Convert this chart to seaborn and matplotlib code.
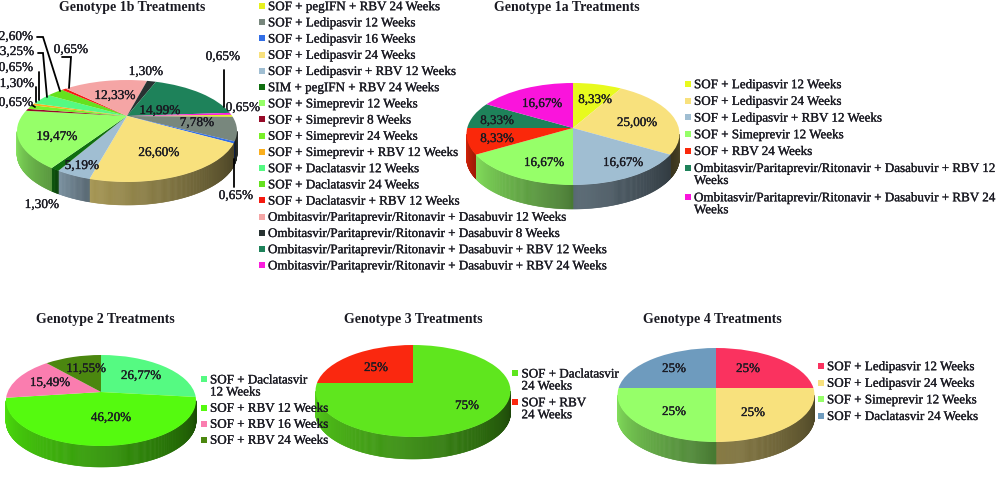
import numpy as np
import matplotlib
matplotlib.use("Agg")
import matplotlib.pyplot as plt
import matplotlib.patheffects as pe
import matplotlib.transforms as mtransforms
import seaborn as sns

# ---------------- DATA ----------------
labels_1b = [
    "SOF + pegIFN + RBV 24 Weeks", "SOF + Ledipasvir 12 Weeks", "SOF + Ledipasvir 16 Weeks",
    "SOF + Ledipasvir 24 Weeks", "SOF + Ledipasvir + RBV 12 Weeks", "SIM + pegIFN + RBV 24 Weeks",
    "SOF + Simeprevir 12 Weeks", "SOF + Simeprevir 8 Weeks", "SOF + Simeprevir 24 Weeks",
    "SOF + Simeprevir + RBV 12 Weeks", "SOF + Daclatasvir 12 Weeks", "SOF + Daclatasvir 24 Weeks",
    "SOF + Daclatasvir + RBV 12 Weeks", "Ombitasvir/Paritaprevir/Ritonavir + Dasabuvir 12 Weeks",
    "Ombitasvir/Paritaprevir/Ritonavir + Dasabuvir 8 Weeks",
    "Ombitasvir/Paritaprevir/Ritonavir + Dasabuvir + RBV 12 Weeks",
    "Ombitasvir/Paritaprevir/Ritonavir + Dasabuvir + RBV 24 Weeks",
]
values_1b = [0.65, 7.78, 0.65, 26.60, 5.19, 1.30, 19.47, 0.65, 1.30, 0.65, 3.25, 2.60, 0.65, 12.33, 1.30, 14.99, 0.65]
colors_1b = ["#e6f01e", "#78877d", "#326ee6", "#f8e17d", "#a0bed2", "#0f6e0f", "#96ff69", "#960a28",
             "#78f028", "#faaf1e", "#55fa82", "#64e11e", "#f5190f", "#f5a5a5", "#283232", "#1e825a", "#fa1edc"]

labels_1a = [
    "SOF + Ledipasvir 12 Weeks", "SOF + Ledipasvir 24 Weeks", "SOF + Ledipasvir + RBV 12 Weeks",
    "SOF + Simeprevir 12 Weeks", "SOF + RBV 24 Weeks",
    "Ombitasvir/Paritaprevir/Ritonavir + Dasabuvir + RBV 12\nWeeks",
    "Ombitasvir/Paritaprevir/Ritonavir + Dasabuvir + RBV 24\nWeeks",
]
values_1a = [8.33, 25.00, 16.67, 16.67, 8.33, 8.33, 16.67]
colors_1a = ["#e8fa1e", "#f8e17d", "#a0bed2", "#96ff69", "#fa280a", "#1e825a", "#fa14dc"]

labels_2 = ["SOF + Daclatasvir\n12 Weeks", "SOF + RBV 12 Weeks", "SOF + RBV 16 Weeks", "SOF + RBV 24 Weeks"]
values_2 = [26.77, 46.20, 15.49, 11.55]
colors_2 = ["#55fa82", "#55fa0f", "#fa7daf", "#4b870f"]

labels_3 = ["SOF + Daclatasvir\n24 Weeks", "SOF + RBV\n24 Weeks"]
values_3 = [75, 25]
colors_3 = ["#5fe61e", "#fa280f"]

labels_4 = ["SOF + Ledipasvir 12 Weeks", "SOF + Ledipasvir 24 Weeks", "SOF + Simeprevir 12 Weeks", "SOF + Daclatasvir 24 Weeks"]
values_4 = [25, 25, 25, 25]
colors_4 = ["#fa325f", "#f8e17d", "#96ff69", "#6e9bbe"]

FONT = "Liberation Serif"
TEXT_COLOR = "#1a1a22"
HEAVY = [pe.withStroke(linewidth=0.2, foreground=TEXT_COLOR)]


# ---------------- 3D LOOK ----------------
class Perspective(mtransforms.Transform):
    # tilts the unit circle of ax.pie so it looks like a disc seen from above
    input_dims = 2
    output_dims = 2

    def __init__(self, cx, cy, ytop, ybot, half):
        super().__init__()
        self.cx = cx
        self.cy = cy
        self.k = (ybot - ytop) / (ybot + ytop)
        self.b = ytop * (1 + self.k)
        self.a = half * np.sqrt(1 - self.k ** 2)

    def transform_non_affine(self, values):
        values = np.asarray(values, dtype=float)
        w = 1 + self.k * values[:, 1]
        return np.column_stack([self.cx + self.a * values[:, 0] / w, self.cy - self.b * values[:, 1] / w])


class OffCentre(mtransforms.Transform):
    # plain ellipse rim, only the tip of the slices sits above the middle (genotype 1b)
    input_dims = 2
    output_dims = 2
    k = 0

    def __init__(self, cx, cy, ytop, ybot, half):
        super().__init__()
        self.cx = cx
        self.cy = cy
        self.lift = (ybot - ytop) / 2
        self.b = (ybot + ytop) / 2
        self.a = half

    def transform_non_affine(self, values):
        values = np.asarray(values, dtype=float)
        r = np.clip(np.hypot(values[:, 0], values[:, 1]), 0, 1)
        return np.column_stack([self.cx + self.a * values[:, 0],
                                self.cy + self.lift * r - self.b * values[:, 1]])


def draw_pie(ax, values, colors, persp, half, depth, start=90):
    wedges, _ = ax.pie(values, colors=colors, startangle=start, counterclock=False, radius=1,
                       wedgeprops={"linewidth": 0})
    for w, color in zip(wedges, colors):
        w.set_transform(persp + ax.transData)
        w.set_zorder(3)

        # side wall, only the part of the slice that faces us
        angles = np.radians(np.linspace(w.theta1, w.theta2, int(w.theta2 - w.theta1) * 2 + 2))
        angles = angles[np.sin(angles) < -persp.k]
        if len(angles) < 2:
            continue
        pts = persp.transform_non_affine(np.column_stack([np.cos(angles), np.sin(angles)]))
        pts = pts[np.argsort(pts[:, 0])]
        left = (pts[0, 0] - persp.cx + half) / (2 * half)
        right = (pts[-1, 0] - persp.cx + half) / (2 * half)
        base = np.array(matplotlib.colors.to_rgb(color))
        shades = sns.blend_palette([base * (0.9 - 0.7 * left), base * (0.65 - 0.35 * right)], len(pts))
        for i in range(len(pts) - 1):
            x = [pts[i, 0], pts[i + 1, 0], pts[i + 1, 0], pts[i, 0]]
            y = [pts[i, 1], pts[i + 1, 1], pts[i + 1, 1] + depth, pts[i, 1] + depth]
            ax.fill(x, y, color=shades[i], linewidth=0.4, zorder=2)


def draw_legend(ax, labels, colors, x, y, row=16.4, line=12.6):
    for label, color in zip(labels, colors):
        extra = label.count("\n")
        ax.scatter([x], [y], marker="s", s=24, color=color, linewidths=0, zorder=4)
        ax.text(x + 6.5, y + 1.2 + line * extra / 2, label, fontsize=9.4, family=FONT, color=TEXT_COLOR, va="center",
                linespacing=1.0, ha="left", zorder=5, path_effects=HEAVY)
        y += row + line * extra


def pct(v):
    return f"{v:.2f}%".replace(".", ",")


def value_text(ax, x, y, s, size=9.6):
    ax.text(x, y + 1, s, fontsize=size, family=FONT, color=TEXT_COLOR, ha="center", va="center", zorder=6,
            path_effects=HEAVY)


def title_text(ax, x, y, s):
    ax.text(x, y + 1, s, fontsize=10, family=FONT, weight="bold", color=TEXT_COLOR, ha="center", va="center")


# ---------------- MAIN ----------------
sns.set_theme(style="white")
fig = plt.figure(figsize=(10, 4.91), dpi=100)
ax = fig.add_axes([0, 0, 1, 1])

draw_pie(ax, values_1b, colors_1b, OffCentre(127, 116, 36, 66, 110), 110, 23, start=18.5)
draw_pie(ax, values_1a, colors_1a, Perspective(573, 128, 45, 57, 106.5), 106.5, 24)
draw_pie(ax, values_2, colors_2, Perspective(101, 392, 37, 54, 95), 95, 21)
draw_pie(ax, values_3, colors_3, Perspective(413, 383, 38, 54, 97.5), 97.5, 22)
draw_pie(ax, values_4, colors_4, Perspective(716, 388, 40, 54, 98.5), 98.5, 22)

title_text(ax, 132, 6, "Genotype 1b Treatments")
title_text(ax, 567, 6, "Genotype 1a Treatments")
title_text(ax, 105, 319, "Genotype 2 Treatments")
title_text(ax, 413, 319, "Genotype 3 Treatments")
title_text(ax, 712, 319, "Genotype 4 Treatments")

draw_legend(ax, labels_1b, colors_1b, 261.5, 6, row=16.2)
draw_legend(ax, labels_1a, colors_1a, 687.5, 84, row=16.7)
draw_legend(ax, labels_2, colors_2, 203.5, 379, row=16)
draw_legend(ax, labels_3, colors_3, 515, 373, row=16.2)
draw_legend(ax, labels_4, colors_4, 820.5, 366, row=16.6)

# slice labels of genotype 1b, same order as the legend
spots_1b = {1: (197, 122), 3: (159, 152), 4: (82, 165), 6: (57, 136), 13: (115, 95), 15: (160, 110)}
for i, (x, y) in spots_1b.items():
    value_text(ax, x, y, pct(values_1b[i]))
side_1b = {0: (243, 107), 2: (236, 195), 5: (42, 204), 7: (16, 102), 8: (17, 83), 9: (16, 67),
           10: (17, 51), 11: (16, 36), 12: (71, 49), 16: (223, 56)}
for i, (x, y) in side_1b.items():
    value_text(ax, x, y, pct(values_1b[i]))
value_text(ax, 146, 71, pct(values_1b[14]))

leaders = [
    [(224, 70), (224, 107)], [(234, 159), (234, 187)], [(37, 37), (43, 37), (60, 91)],
    [(62, 57), (71, 57), (69, 88)], [(38, 53), (43, 53), (47, 97)], [(39, 72), (39, 100)],
    [(36, 87), (36, 102)], [(32, 105), (35, 107)],
]
for pts in leaders:
    ax.plot(*zip(*pts), color="black", linewidth=1.3, zorder=5, solid_joinstyle="miter")

spots_1a = [(595, 99), (637, 122), (623, 162), (544, 162), (497, 138), (497, 120), (542, 103)]
for v, (x, y) in zip(values_1a, spots_1a):
    value_text(ax, x, y, pct(v), size=9.4)

spots_2 = [(141, 375), (111, 417), (50, 382), (86, 368)]
for v, (x, y) in zip(values_2, spots_2):
    value_text(ax, x, y, pct(v), size=9.4)

for v, (x, y) in zip(values_3, [(467, 405), (376, 367)]):
    value_text(ax, x, y, f"{v}%", size=9.4)

for v, (x, y) in zip(values_4, [(748, 368), (753, 412), (674, 411), (674, 368)]):
    value_text(ax, x, y, f"{v}%", size=9.4)

ax.set_xlim(0, 1000)
ax.set_ylim(491, 0)
ax.set_aspect("auto")
ax.axis("off")
fig.savefig("out.png", dpi=100)
